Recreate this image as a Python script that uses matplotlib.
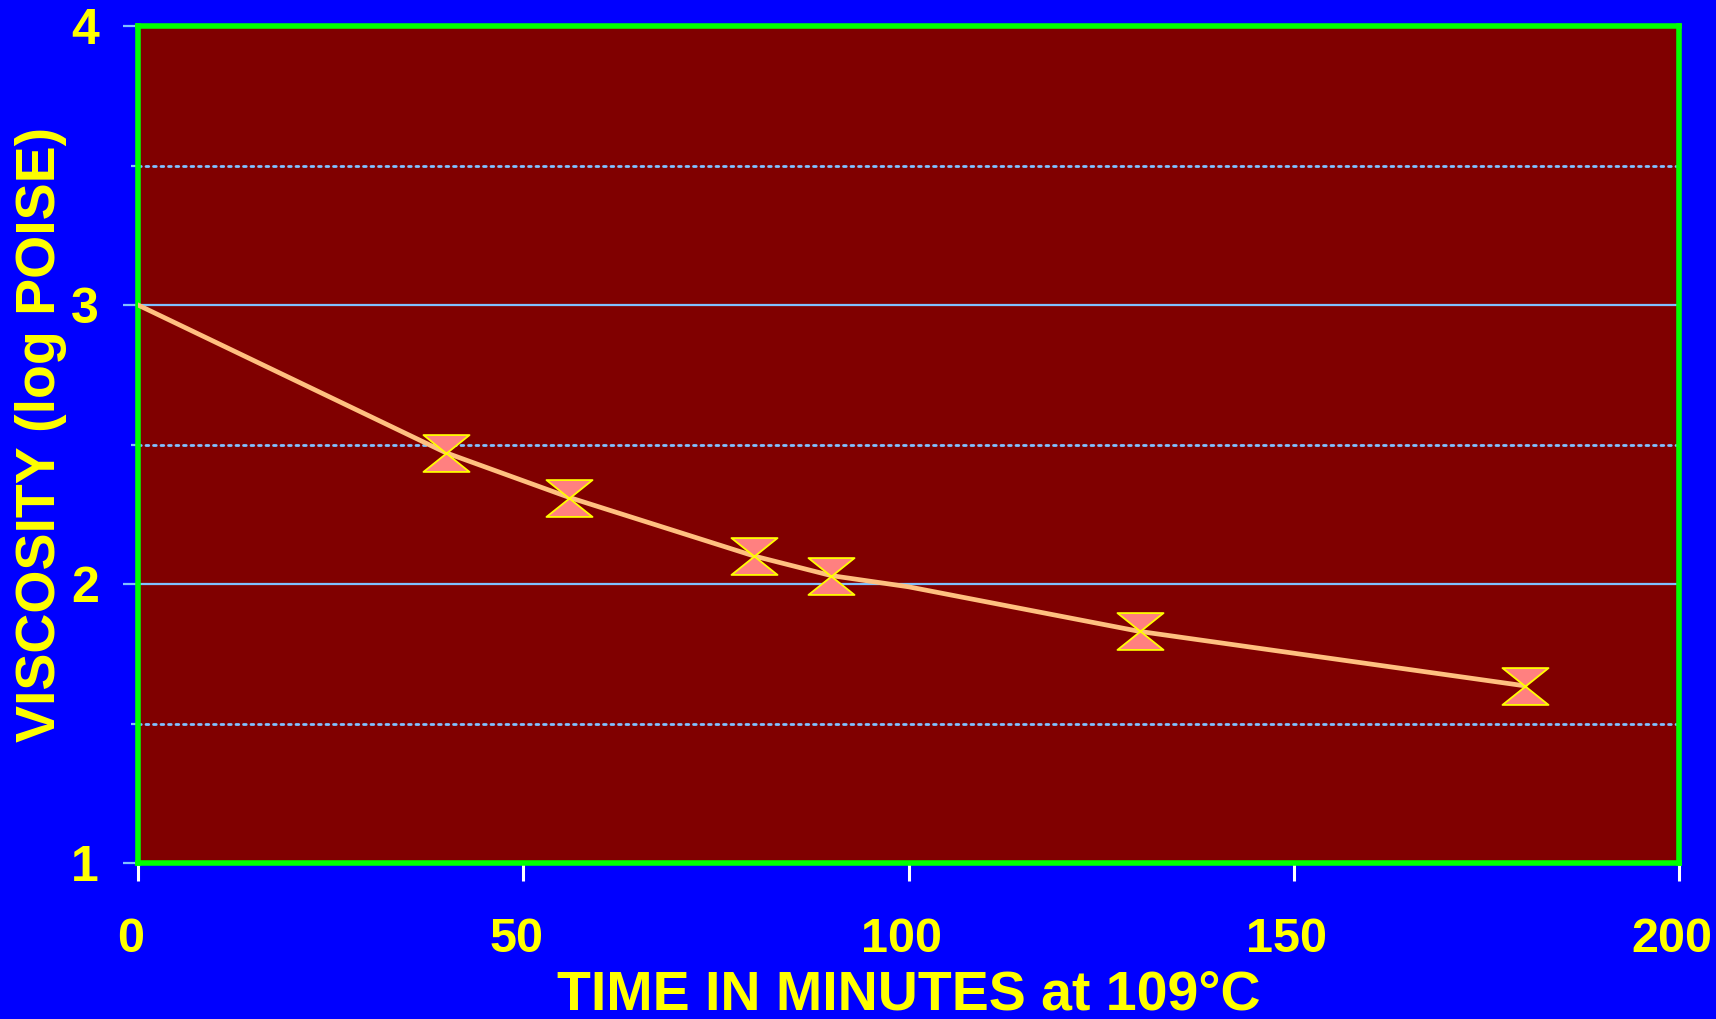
import matplotlib
matplotlib.use("Agg")
import matplotlib.pyplot as plt
import matplotlib.transforms as mtransforms
from matplotlib.path import Path
from matplotlib.ticker import MultipleLocator

plt.rcParams["font.family"] = ["Liberation Sans", "DejaVu Sans"]
plt.rcParams["font.weight"] = "bold"

# measured viscosity points
time_min = [40, 56, 80, 90, 130, 180]
log_visc = [2.47, 2.31, 2.10, 2.03, 1.83, 1.635]

# fitted curve
curve_x = [0, 40, 56, 80, 90, 100, 130, 180]
curve_y = [3.0, 2.47, 2.31, 2.10, 2.03, 1.99, 1.83, 1.635]

x_ticks = [0, 50, 100, 150, 200]
y_ticks = [1, 2, 3, 4]

hourglass = Path([(-1, 0.8), (1, 0.8), (-1, -0.8), (1, -0.8), (-1, 0.8)],
                 [Path.MOVETO, Path.LINETO, Path.LINETO, Path.LINETO, Path.CLOSEPOLY])

fig = plt.figure(figsize=(17.16, 10.19), dpi=100, facecolor="#0000FF")
ax = fig.add_axes([138 / 1716, 1 - 863 / 1019, (1679 - 138) / 1716, (863 - 26) / 1019])
ax.set_facecolor("#800000")

ax.set_xlim(0, 200)
ax.set_ylim(1, 4)
ax.set_xticks(x_ticks)
ax.set_yticks(y_ticks)
ax.yaxis.set_minor_locator(MultipleLocator(0.5))

ax.grid(axis="y", which="major", color="#80C0FF", lw=1.6)
ax.grid(axis="y", which="minor", color="#80C0FF", lw=2.0, ls=(0, (1, 1.7)),
        dash_capstyle="round")
ax.set_axisbelow(True)

ax.plot(curve_x, curve_y, color="#FFC080", lw=3.4, zorder=3)
ax.scatter(time_min, log_visc, marker=hourglass, s=1100, facecolor="#FF8080",
           edgecolor="#FFFF00", linewidth=1.3, zorder=4)

for s in ax.spines.values():
    s.set_color("#00FF00")
    s.set_linewidth(4)

ax.tick_params(axis="y", which="major", colors="#80C0FF", length=11, width=1.6,
               pad=17, labelcolor="#FFFF00", labelsize=36)
ax.tick_params(axis="y", which="minor", colors="#80C0FF", length=5, width=1.6)
ax.tick_params(axis="x", colors="white", length=13, width=2.2, pad=26,
               labelcolor="#FFFF00", labelsize=35)
shift = mtransforms.ScaledTranslation(-7 / 100, 0, fig.dpi_scale_trans)
for lab in ax.get_xticklabels():
    lab.set_transform(lab.get_transform() + shift)
for lab in ax.get_xticklabels() + ax.get_yticklabels():
    lab.set_fontweight("bold")

ax.set_xlabel("TIME IN MINUTES at 109°C", color="#FFFF00", fontsize=40,
              fontweight="bold", labelpad=5)
ax.set_ylabel("VISCOSITY (log POISE)", color="#FFFF00", fontsize=40,
              fontweight="bold")
ax.yaxis.set_label_coords(-0.046, 0.512)

fig.savefig("out.png", dpi=100, facecolor=fig.get_facecolor())
